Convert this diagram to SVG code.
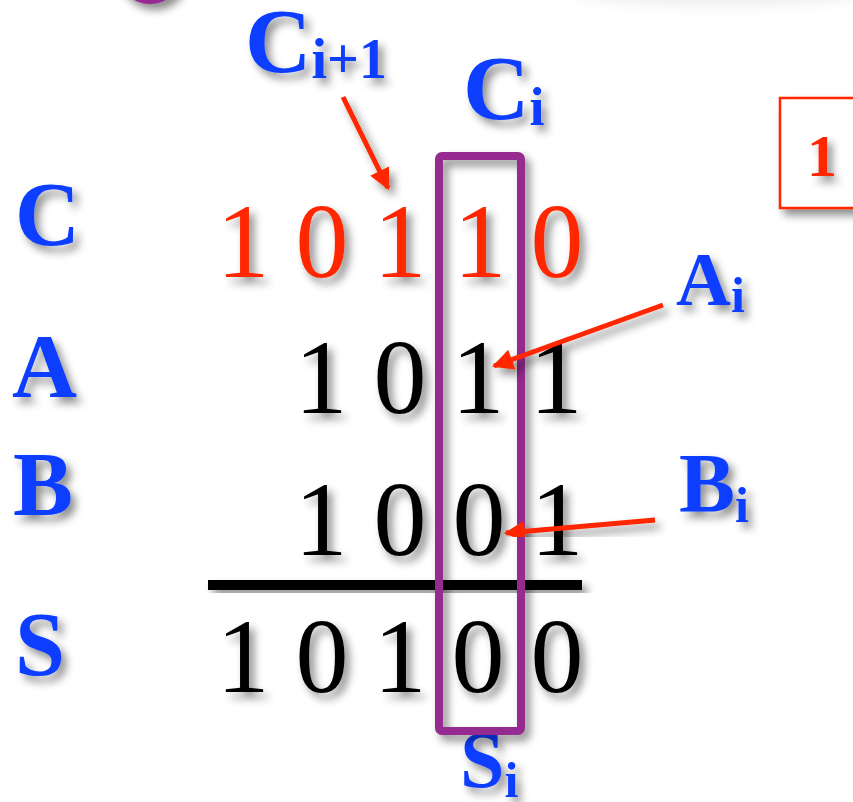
<svg xmlns="http://www.w3.org/2000/svg" width="853" height="802" viewBox="0 0 853 802">
  <defs>
    <filter id="shadow" x="-30%" y="-30%" width="160%" height="160%">
      <feDropShadow dx="5" dy="6" stdDeviation="4" flood-color="#000" flood-opacity="0.45"/>
    </filter>
    <filter id="haze" filterUnits="userSpaceOnUse" x="500" y="-80" width="400" height="120">
      <feGaussianBlur stdDeviation="9"/>
    </filter>
    <marker id="head" viewBox="0 0 10 10" refX="9" refY="5" markerWidth="4.6" markerHeight="4.2" orient="auto" markerUnits="strokeWidth">
      <path d="M0,0 L10,5 L0,10 z" fill="#FF2600"/>
    </marker>
    <style>
      .lbl { font-family: "Liberation Serif", "DejaVu Serif", serif; font-weight: bold; fill: #0A3CFF; filter: url(#shadow); }
      .dig { font-family: "Liberation Serif", "DejaVu Serif", serif; font-size: 106px; text-anchor: middle; filter: url(#shadow); }
      .carry { fill: #FF2600; }
      .num { fill: #000; }
      .arrow { stroke: #FF2600; stroke-width: 5; fill: none; marker-end: url(#head); filter: url(#shadow); }
    </style>
  </defs>

  <rect width="853" height="802" fill="#fff"/>

  <!-- soft shadows of items above the frame -->
  <ellipse cx="720" cy="-14" rx="150" ry="16" fill="#000" opacity="0.10" filter="url(#haze)"/>
  <circle cx="150" cy="-30" r="34" fill="#952A91" filter="url(#shadow)"/>

  <!-- row labels -->
  <g id="label-C"><text class="lbl" x="15" y="245" font-size="90">C</text></g>
  <g id="label-A"><text class="lbl" x="12" y="397" font-size="90">A</text></g>
  <g id="label-B"><text class="lbl" x="13" y="515" font-size="90">B</text></g>
  <g id="label-S"><text class="lbl" x="15" y="675" font-size="90">S</text></g>

  <!-- column labels -->
  <g id="label-Ci1"><text class="lbl" x="245" y="72" font-size="92">C<tspan font-size="56" dy="6">i+1</tspan></text></g>
  <g id="label-Ci"><text class="lbl" x="463" y="119" font-size="92">C<tspan font-size="54" dy="6">i</tspan></text></g>
  <g id="label-Ai"><text class="lbl" x="676" y="305" font-size="76">A<tspan font-size="50" dy="7">i</tspan></text></g>
  <g id="label-Bi"><text class="lbl" x="679" y="512" font-size="84">B<tspan font-size="50" dy="10">i</tspan></text></g>
  <g id="label-Si"><text class="lbl" x="460" y="787" font-size="80">S<tspan font-size="50" dy="10">i</tspan></text></g>

  <!-- carry row -->
  <g id="row-C" class="dig carry">
    <text x="243" y="277">1</text>
    <text x="322" y="277">0</text>
    <text x="400" y="277">1</text>
    <text x="480" y="277">1</text>
    <text x="557" y="277">0</text>
  </g>

  <!-- operand A -->
  <g id="row-A" class="dig num">
    <text x="321" y="413">1</text>
    <text x="400" y="413">0</text>
    <text x="478" y="413">1</text>
    <text x="556" y="413">1</text>
  </g>

  <!-- operand B -->
  <g id="row-B" class="dig num">
    <text x="321" y="555">1</text>
    <text x="400" y="555">0</text>
    <text x="479" y="555">0</text>
    <text x="557" y="555">1</text>
  </g>

  <!-- sum rule -->
  <g id="sum-line"><rect x="208" y="580" width="374" height="10" fill="#000" filter="url(#shadow)"/></g>

  <!-- sum -->
  <g id="row-S" class="dig num">
    <text x="243" y="692">1</text>
    <text x="322" y="692">0</text>
    <text x="400" y="692">1</text>
    <text x="478" y="692">0</text>
    <text x="557" y="692">0</text>
  </g>

  <!-- highlighted column i -->
  <g id="column-i">
    <rect x="439" y="156" width="82" height="575" rx="3" fill="none" stroke="#952A91" stroke-width="8" filter="url(#shadow)"/>
  </g>

  <!-- boxed step number -->
  <g id="step-box">
    <rect x="780" y="98" width="100" height="110" fill="#fff" stroke="#FF2600" stroke-width="2.5" filter="url(#shadow)"/>
    <text x="822" y="176" font-family="Liberation Serif, DejaVu Serif, serif" font-weight="bold" font-size="60" text-anchor="middle" fill="#FF2600" filter="url(#shadow)">1</text>
  </g>

  <!-- pointer arrows -->
  <g id="connectors">
    <line class="arrow" x1="343" y1="97" x2="388" y2="188"/>
    <line class="arrow" x1="663" y1="305" x2="494" y2="366"/>
    <line class="arrow" x1="655" y1="520" x2="506" y2="533"/>
  </g>
</svg>
